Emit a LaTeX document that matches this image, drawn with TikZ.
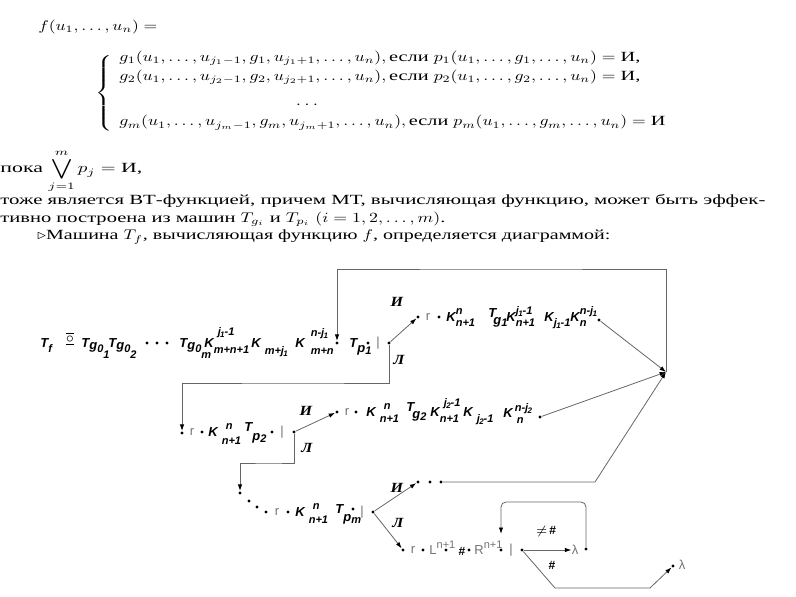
\documentclass[tikz,border=0pt]{standalone}
\usepackage{amsmath}
\usepackage[no-math]{fontspec}
\setmainfont{Liberation Serif}[FakeStretch=1.15]
\setsansfont{Liberation Sans}
\usetikzlibrary{arrows.meta,positioning}

% label fonts of the diagram
\newcommand\lb[1]{{\fontsize{6.5}{7}\selectfont\sffamily\itshape\bfseries #1}}
\newcommand\ls[1]{{\fontsize{5.5}{6}\selectfont\sffamily\itshape\bfseries #1}}
\newcommand\lt[1]{{\fontsize{4}{4}\selectfont\sffamily\itshape\bfseries #1}}
\newcommand\spsx[4]{\ooalign{\raisebox{#1}{\ls{#3}}\cr\raisebox{-#2}{\ls{#4}}\cr}}
\newcommand\sps[2]{\spsx{3.4pt}{2.7pt}{#1}{#2}}
\newcommand\dn[2][2.7pt]{\raisebox{-#1}{\ls{#2}}}
\newcommand\jj[1]{j\kern-.3pt\raisebox{-1pt}{\lt{#1}}}
\newcommand\Tg[1]{\lb{T}\raisebox{-1pt}{\lb{g}\raisebox{-1.75pt}{\ls{0}\raisebox{-3pt}{\ls{#1}}}}}
\newcommand\mvs[1]{\raisebox{3pt}{\fontsize{5.5}{6}\selectfont #1}}
% the page text is set at 10pt and squeezed to the scan's proportions
\newcommand\hx[1]{\scalebox{0.95}[0.7]{#1}}
\newcommand\fw[2]{\resizebox{#1}{0.7\height}{#2}}

\begin{document}
\begin{tikzpicture}[x=0.5pt,y=-0.5pt,
    bul/.style={circle,fill=black,inner sep=0pt,minimum size=1.7pt},
    term/.style={inner sep=0pt,anchor=base west},
    mv/.style={inner sep=0pt,font=\fontsize{6.5}{7}\selectfont\sffamily,text=black!55},
    yn/.style={inner sep=0pt,font=\fontsize{7}{7}\selectfont\bfseries\itshape},
    hs/.style={inner sep=0pt,font=\fontsize{6}{6}\selectfont\sffamily\bfseries},
    con/.style={draw=black!60,line width=0.4pt},
    flow/.style={con,-{Latex[length=3.2pt,width=2.2pt,color=black]}},
    txt/.style={inner sep=0pt,anchor=base west,font=\fontsize{10}{12}\selectfont}]

    \useasboundingbox (0,0) rectangle (796,597);

    % Formula
    \node[txt] (fl) at (38,30.5) {\fw{59.5pt}{$f(u_1,\ldots,u_n) =$}};
    \node[inner sep=0pt,font=\fontsize{10}{12}\selectfont] (br) at (105,93.5)
        {\hx{$\left\{\vcenter{\hrule height 58pt width 0pt}\right.$}};
    \node[txt] (row1) at (119,61.5) {\fw{260.5pt}{$g_1(u_1,\ldots,u_{j_1-1},g_1,u_{j_1+1},\ldots,u_n),\,$если $p_1(u_1,\ldots,g_1,\ldots,u_n)=$ И,}};
    \node[txt] (row2) at (119,80.5) {\fw{260.5pt}{$g_2(u_1,\ldots,u_{j_2-1},g_2,u_{j_2+1},\ldots,u_n),\,$если $p_2(u_1,\ldots,g_2,\ldots,u_n)=$ И,}};
    \node[txt,anchor=base] (rowd) at (307,106) {\hx{$\ldots$}};
    \node[txt] (rowm) at (119,126) {\fw{273pt}{$g_m(u_1,\ldots,u_{j_m-1},g_m,u_{j_m+1},\ldots,u_n),\,$если $p_m(u_1,\ldots,g_m,\ldots,u_n)=$ И}};

    % Text lines
    \node[txt] (pk) at (0,173) {\hx{пока $\displaystyle\bigvee_{j=1}^{m} p_j =$ И,}};
    \node[txt] (ln1) at (0,205) {\fw{382.5pt}{тоже является ВТ-функцией, причем МТ, вычисляющая функцию, может быть эффек-}};
    \node[txt] (ln2) at (0,222.5) {\fw{222.5pt}{тивно построена из машин $T_{g_i}$ и $T_{p_i}$ $(i=1,2,\ldots,m)$.}};
    \node[txt] (ln3) at (37,240) {\fw{286.5pt}{$\triangleright$Машина $T_f$, вычисляющая функцию $f$, определяется диаграммой:}};

    % Row 1
    \node[term] (tf) at (40,347.5) {\lb{T}\dn{f}};
    \node[inner sep=0pt,font=\fontsize{7}{7}\selectfont] (eqv) at (70,339) {$\overline{\underline{\circ}}$};
    \node[term] (g01) at (81,347.5) {\Tg{1}};
    \node[term] (g02) at (108,347.5) {\Tg{2}};
    \foreach \x [count=\i] in {147,157,167}
        \node[bul] (d1\i) at (\x,343) {};
    \node[term] (g0m) at (179,347.5) {\Tg{m}};
    \node[term] (k1a) at (204,347.5) {\lb{K}\spsx{6pt}{3pt}{\kern2pt\jj{1}-1}{m+n+1}};
    \node[term] (k1b) at (251,347.5) {\lb{K}\kern2pt\dn[3.5pt]{m+\jj{1}}};
    \node[term] (k1c) at (295,347.5) {\lb{K}\kern3pt\spsx{5.5pt}{3.3pt}{n-\jj{1}}{m+n}};
    \node[bul] (in1) at (337,343) {};
    \node[term] (tp1) at (349,347.5) {\lb{T}\raisebox{-2.5pt}{\lb{p}\raisebox{-1pt}{\ls{1}}}};
    \node[bul] (d14) at (368,343) {};
    \node[mv] (bar1) at (378,343) {|};
    \node[bul] (b1) at (389,343) {};
    \node[yn] (y1) at (397,302) {И};
    \node[yn] (n1) at (399,360) {Л};

    % Row 1, branch И
    \node[bul] (s1) at (418,317) {};
    \node[mv] (r1) at (428,317) {r};
    \node[bul] (d15) at (439,317) {};
    \node[term] (k1d) at (446,321.5) {\lb{K}\sps{n}{n+1}};
    \node[term] (tg1) at (488,321.5) {\raisebox{2pt}{\lb{T}}\kern-1.5pt\raisebox{-1.5pt}{\lb{g}\raisebox{-1pt}{\ls{1}}}};
    \node[term] (k1e) at (506,321.5) {\lb{K}\sps{\jj{1}-1}{n+1}};
    \node[term] (k1f) at (544,321.5) {\lb{K}\dn{\jj{1}-1}};
    \node[term] (k1g) at (570,321.5) {\lb{K}\sps{n-\jj{1}}{n}};
    \node[bul] (e1) at (599,320) {};

    % Row 2
    \node[bul] (in2) at (182,433) {};
    \node[mv] (r2) at (192,432) {r};
    \node[bul] (d21) at (202,432) {};
    \node[term] (k2a) at (208,436.5) {\lb{K}\kern2pt\spsx{3.4pt}{4pt}{\kern2pt n}{n+1}};
    \node[term] (tp2) at (244,436.5) {\raisebox{2.5pt}{\lb{T}}\raisebox{-2pt}{\lb{p}\raisebox{-1pt}{\ls{2}}}};
    \node[bul] (d22) at (272,432) {};
    \node[mv] (bar2) at (282,432) {|};
    \node[bul] (b2) at (294,432) {};
    \node[yn] (y2) at (306,411) {И};
    \node[yn] (n2) at (307,448) {Л};

    % Row 2, branch И
    \node[bul] (s2) at (337,412) {};
    \node[mv] (r2b) at (347,412) {r};
    \node[bul] (d23) at (356,412) {};
    \node[term] (k2b) at (366,416.5) {\lb{K}\kern2pt\spsx{3.4pt}{3pt}{\kern2pt n}{n+1}};
    \node[term] (tg2) at (406,416.5) {\raisebox{2.5pt}{\lb{T}}\kern-1pt\raisebox{-1pt}{\lb{g}\raisebox{-1pt}{\ls{2}}}};
    \node[term] (k2c) at (430,416.5) {\lb{K}\spsx{5pt}{3pt}{\kern2pt\jj{2}-1}{n+1}};
    \node[term] (k2d) at (463,416.5) {\lb{K}\kern2pt\dn[3pt]{\jj{2}-1}};
    \node[term] (k2e) at (503,418) {\lb{K}\kern1pt\sps{n-\jj{2}}{\kern1pt n}};
    \node[bul] (e2) at (540,417) {};

    % Row m
    \node[bul] (inm) at (240,493) {};
    \foreach \x/\y [count=\i] in {249/501,257/507,266/512}
        \node[bul] (dm\i) at (\x,\y) {};
    \node[mv] (rm) at (277,512) {r};
    \node[bul] (dm4) at (288,512) {};
    \node[term] (kma) at (295,516.5) {\lb{K}\kern2pt\spsx{3.4pt}{3.5pt}{\kern2pt n}{n+1}};
    \node[term] (tpm) at (335,516.5) {\raisebox{1.5pt}{\lb{T}}\raisebox{-2.5pt}{\lb{p}\raisebox{-1pt}{\ls{m}}}};
    \node[bul] (dm5) at (353,509) {};
    \node[mv] (barm) at (362,512) {|};
    \node[bul] (bm) at (373,512) {};
    \node[yn] (ym) at (397,488) {И};
    \node[yn] (nm) at (398,523) {Л};

    % Row m, branch И
    \foreach \x [count=\i] in {418,430,441}
        \node[bul] (u\i) at (\x,482) {};
    \coordinate (cu) at (595,482);

    % Row m, branch Л
    \node[bul] (s3) at (403,550) {};
    \node[mv] (r3) at (413,550) {r};
    \node[bul] (d31) at (423,550) {};
    \node[mv,anchor=base west] (ll) at (429,554.5) {L\mvs{n+1}};
    \node[bul] (d32) at (446,550) {};
    \node[hs] (h1) at (462,551) {\#};
    \node[bul] (d33) at (469,550) {};
    \node[mv,anchor=base west] (rr) at (474,554.5) {R\mvs{n+1}};
    \node[bul] (d34) at (501,550) {};
    \node[mv] (bar3) at (511,550) {|};
    \node[bul] (b3) at (522,550) {};
    \node[mv] (lam1) at (575,550) {λ};
    \node[bul] (e3) at (586,549) {};
    \node[hs] (ne) at (546,531) {$\neq$\,\#};
    \node[hs] (h2) at (552,565) {\#};
    \coordinate (lp) at (540,502);
    \coordinate (c1) at (555,588);
    \coordinate (c2) at (650,588);
    \node[bul] (e4) at (673,566) {};
    \node[mv] (lam2) at (682,565) {λ};

    % Junction and corners
    \coordinate (J) at (666,372);
    \coordinate (top) at (500,269);
    \coordinate (dn1) at (300,383);
    \coordinate (dn2) at (270,463);

    % Connectors
    \draw[flow] (e1) -- (J);
    \draw[flow] (e2) -- (J);
    \draw[flow] (u3) -- (cu) -- (J);
    \draw[flow] (J) |- (top) -| (in1);
    \draw[flow] (b1) -- (s1);
    \draw[flow] (b1) |- (dn1) -| (in2);
    \draw[flow] (b2) -- (s2);
    \draw[flow] (b2) |- (dn2) -| (inm);
    \draw[flow] (bm) -- (u1);
    \draw[flow] (bm) -- (s3);
    \draw[flow] (b3) -- (lam1);
    \draw[flow,rounded corners=2.5pt,shorten >=7pt] (e3) |- (lp) -| (d34);
    \draw[flow] (b3) -- (c1) -- (c2) -- (e4);
\end{tikzpicture}
\end{document}
